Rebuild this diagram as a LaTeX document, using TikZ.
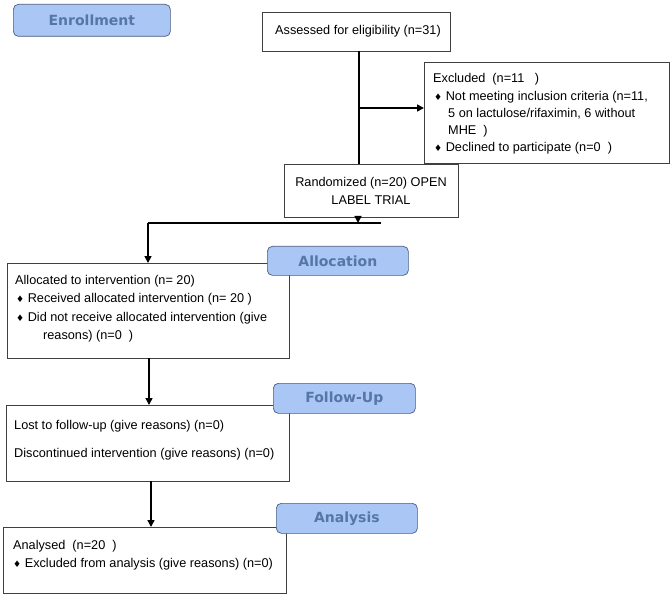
\documentclass[tikz,border=0pt]{standalone}
\usepackage{fontspec}
\setmainfont{Liberation Sans}
\newfontfamily\labfont{DejaVu Sans}
\newfontfamily\symfont{DejaVu Sans}
\usetikzlibrary{arrows.meta}
\definecolor{labfill}{HTML}{A9C6F5}
\definecolor{labdraw}{HTML}{4A5E80}
\definecolor{labtext}{HTML}{5676A6}
\newcommand{\bul}{{\symfont\fontsize{9}{9}\selectfont ♦}}
\begin{document}
\begin{tikzpicture}[x=1pt,y=-1pt,
  box/.style={draw=black!75, line width=0.7pt, fill=white, inner sep=0pt, anchor=north west},
  lab/.style={draw=labdraw, line width=0.7pt, fill=labfill, rounded corners=5pt, inner sep=0pt, anchor=north west,
    text=labtext, font=\labfont\bfseries\fontsize{14}{16}\selectfont},
  txt/.style={anchor=base west, inner sep=0pt, font=\fontsize{12.7}{14}\selectfont},
  ctxt/.style={anchor=base, inner sep=0pt, font=\fontsize{12.7}{14}\selectfont},
  arr/.style={line width=1.6pt, -{Triangle[length=7pt,width=7pt]}},
  ln/.style={line width=1.6pt}]
\useasboundingbox (0,0) rectangle (672,596);
\fill[white] (0,0) rectangle (672,596);
% boxes
\node[box, minimum width=188, minimum height=39] (assess) at (262,12) {};
\node[box, minimum width=245, minimum height=101] (excl) at (424,62) {};
\node[box, minimum width=174, minimum height=53] (rand) at (284,164) {};
\node[box, minimum width=282, minimum height=95] (alloc) at (7,263) {};
\node[box, minimum width=283, minimum height=76] (follow) at (6,405) {};
\node[box, minimum width=283, minimum height=66] (anal) at (3,527) {};
% labels
\node[lab, minimum width=157, minimum height=32] (enroll) at (13,4) {Enrollment};
\node[lab, minimum width=141, minimum height=29] (alloclab) at (267,246) {Allocation};
\node[lab, minimum width=142, minimum height=30] (followlab) at (273,383) {Follow-Up};
\node[lab, minimum width=141, minimum height=30] (analab) at (276,503) {Analysis};
% texts
\node[ctxt] (t1) at (358,35) {Assessed for eligibility (n=31)};
\node[txt] (e1) at (433,83) {Excluded\ \ (n=11\ \ \ )};
\node[txt] (e2) at (434,101) {\bul\ Not meeting inclusion criteria (n=11,};
\node[txt] (e3) at (448,118) {5 on lactulose/rifaximin, 6 without};
\node[txt] (e4) at (448,135) {MHE\ \ )};
\node[txt] (e5) at (434,152) {\bul\ Declined to participate (n=0\ \ )};
\node[ctxt] (r1) at (371,187) {Randomized (n=20) OPEN};
\node[ctxt] (r2) at (371,205) {LABEL TRIAL};
\node[txt] (a1) at (15,284) {Allocated to intervention (n= 20)};
\node[txt] (a2) at (16,302) {\bul\ Received allocated intervention (n= 20 )};
\node[txt] (a3) at (16,321) {\bul\ Did not receive allocated intervention (give};
\node[txt] (a4) at (43,339) {reasons) (n=0\ \ )};
\node[txt] (f1) at (14,429) {Lost to follow-up (give reasons) (n=0)};
\node[txt] (f2) at (14,457) {Discontinued intervention (give reasons) (n=0)};
\node[txt] (n1) at (13,549) {Analysed\ \ (n=20\ \ )};
\node[txt] (n2) at (13,567) {\bul\ Excluded from analysis (give reasons) (n=0)};
% connectors
\coordinate (va) at (359,51);
\coordinate (vb) at (359,164);
\coordinate (jx) at (359,108);
\coordinate (rs) at (358,217);
\coordinate (hl) at (148,223);
\coordinate (hr) at (381,223);
\draw[ln] (va) -- (vb);
\draw[arr] (jx) -- (jx -| excl.west);
\draw[arr] (rs) -- (rs |- hr);
\draw[ln] (hl) -- (hr);
\draw[arr] (hl) -- (hl |- alloc.north);
\draw[arr] (149,358) -- (149,405);
\draw[arr] (151,481) -- (151,527);
\end{tikzpicture}
\end{document}
